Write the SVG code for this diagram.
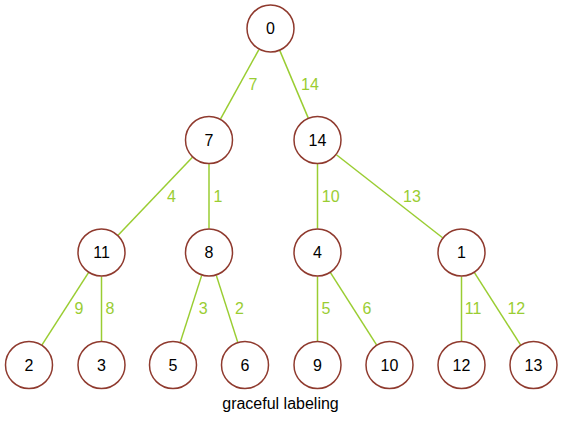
<svg xmlns="http://www.w3.org/2000/svg" width="563" height="421" viewBox="0 0 563 421">
<style>
.node circle{fill:#fff;stroke:#8f3a2e;stroke-width:1.5}
.node text{font-family:"Liberation Sans",Arial,sans-serif;font-size:16px;fill:#000;text-anchor:middle}
.edges line{stroke:#9acd32;stroke-width:1.5}
.elabel{font-family:"Liberation Sans",Arial,sans-serif;font-size:16px;fill:#9acd32;text-anchor:middle}
.caption{font-family:"Liberation Sans",Arial,sans-serif;font-size:16px;fill:#000;text-anchor:middle}
</style>
<rect width="563" height="421" fill="#fff"/>
<g id="connectors" class="edges">
<line x1="258.91" y1="49.52" x2="220.59" y2="118.98"/>
<line x1="279.82" y1="50.62" x2="308.18" y2="117.88"/>
<line x1="192.42" y1="157.35" x2="118.08" y2="235.15"/>
<line x1="209" y1="164" x2="209" y2="228.5"/>
<line x1="317.5" y1="164" x2="317.5" y2="228.5"/>
<line x1="336.41" y1="154.78" x2="442.59" y2="237.72"/>
<line x1="88.5" y1="272.67" x2="42" y2="344.83"/>
<line x1="101.5" y1="276.5" x2="101.5" y2="341"/>
<line x1="201.69" y1="275.36" x2="180.31" y2="342.14"/>
<line x1="216.31" y1="275.36" x2="237.69" y2="342.14"/>
<line x1="317.5" y1="276.5" x2="317.5" y2="341"/>
<line x1="330.44" y1="272.71" x2="376.56" y2="344.79"/>
<line x1="461.5" y1="276.5" x2="461.5" y2="341"/>
<line x1="474.44" y1="272.71" x2="520.56" y2="344.79"/>
<text class="elabel" x="253" y="90">7</text>
<text class="elabel" x="310" y="90">14</text>
<text class="elabel" x="171.5" y="202">4</text>
<text class="elabel" x="218" y="202">1</text>
<text class="elabel" x="330.7" y="202">10</text>
<text class="elabel" x="412" y="202">13</text>
<text class="elabel" x="79" y="314">9</text>
<text class="elabel" x="110" y="314">8</text>
<text class="elabel" x="203.3" y="314">3</text>
<text class="elabel" x="239.5" y="314">2</text>
<text class="elabel" x="326" y="314">5</text>
<text class="elabel" x="367" y="314">6</text>
<text class="elabel" x="473" y="314">11</text>
<text class="elabel" x="516.3" y="314">12</text>
</g>
<g id="n0" class="node"><circle cx="270.5" cy="28.5" r="23.5"/><text x="270.5" y="34.3">0</text></g>
<g id="n7" class="node"><circle cx="209" cy="140" r="23.5"/><text x="209" y="145.8">7</text></g>
<g id="n14" class="node"><circle cx="317.5" cy="140" r="23.5"/><text x="317.5" y="145.8">14</text></g>
<g id="n11" class="node"><circle cx="101.5" cy="252.5" r="23.5"/><text x="101.5" y="258.3">11</text></g>
<g id="n8" class="node"><circle cx="209" cy="252.5" r="23.5"/><text x="209" y="258.3">8</text></g>
<g id="n4" class="node"><circle cx="317.5" cy="252.5" r="23.5"/><text x="317.5" y="258.3">4</text></g>
<g id="n1" class="node"><circle cx="461.5" cy="252.5" r="23.5"/><text x="461.5" y="258.3">1</text></g>
<g id="n2" class="node"><circle cx="29" cy="365" r="23.5"/><text x="29" y="370.8">2</text></g>
<g id="n3" class="node"><circle cx="101.5" cy="365" r="23.5"/><text x="101.5" y="370.8">3</text></g>
<g id="n5" class="node"><circle cx="173" cy="365" r="23.5"/><text x="173" y="370.8">5</text></g>
<g id="n6" class="node"><circle cx="245" cy="365" r="23.5"/><text x="245" y="370.8">6</text></g>
<g id="n9" class="node"><circle cx="317.5" cy="365" r="23.5"/><text x="317.5" y="370.8">9</text></g>
<g id="n10" class="node"><circle cx="389.5" cy="365" r="23.5"/><text x="389.5" y="370.8">10</text></g>
<g id="n12" class="node"><circle cx="461.5" cy="365" r="23.5"/><text x="461.5" y="370.8">12</text></g>
<g id="n13" class="node"><circle cx="533.5" cy="365" r="23.5"/><text x="533.5" y="370.8">13</text></g>
<text class="caption" x="280.5" y="409">graceful labeling</text>
</svg>
